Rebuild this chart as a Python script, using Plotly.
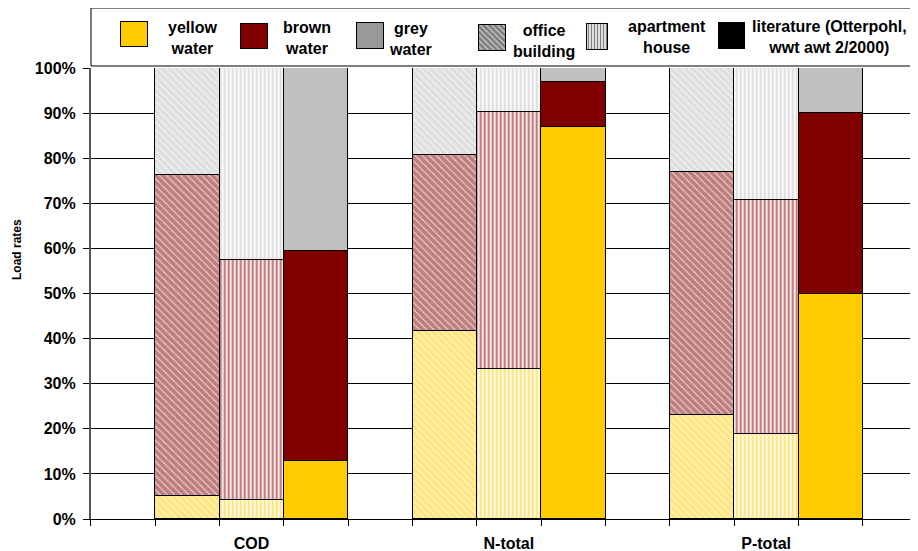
import plotly.graph_objects as go

# The page body keeps its default 8px margin, so the figure is laid out
# in window pixels and shifted by that offset.
WIN_W, WIN_H = 918, 551
OFF = 8
W, H = WIN_W - OFF, WIN_H - OFF

# ── Data (share of load, %) ──────────────────────────────────────────────────
groups = ["COD", "N-total", "P-total"]
buildings = ["office building", "apartment house", "literature"]
waters = ["yellow water", "brown water", "grey water"]

yellow_office = [5.0, 41.7, 23.0]
brown_office = [71.3, 39.0, 54.0]
grey_office = [23.7, 19.3, 23.0]

yellow_apartment = [4.3, 33.3, 18.9]
brown_apartment = [53.1, 56.9, 51.8]
grey_apartment = [42.6, 9.8, 29.3]

yellow_literature = [12.9, 87.0, 50.0]
brown_literature = [46.5, 9.8, 40.0]
grey_literature = [40.6, 3.2, 10.0]

y_ticks = list(range(0, 101, 10))
y_ticklabels = [f"{v}%" for v in y_ticks]

values = {
    "office building": [yellow_office, brown_office, grey_office],
    "apartment house": [yellow_apartment, brown_apartment, grey_apartment],
    "literature": [yellow_literature, brown_literature, grey_literature],
}

# ── Styles ──────────────────────────────────────────────────────────────────
WATER_COLORS = {"yellow water": "#FFCC00", "brown water": "#800000", "grey water": "#C0C0C0"}
PATTERNS = {
    "office building": dict(shape="\\", size=5, solidity=0.85),
    "apartment house": dict(shape="|", size=4, solidity=0.6),
    "literature": dict(shape=""),
}
FONT = "Liberation Sans, Arial, sans-serif"


def px(x):
    """window pixel -> paper fraction"""
    return (x - OFF) / W


def py(y):
    return 1 - (y - OFF) / H


fig = go.Figure()

# ── Stacked bars: one slot per building, empty slot between groups ─────────
for b, bld in enumerate(buildings):
    xs = [4 * g + b + 1.5 for g in range(len(groups))]
    for w, water in enumerate(waters):
        col = WATER_COLORS[water]
        pat = dict(PATTERNS[bld])
        if pat["shape"]:
            pat.update(fgcolor=col, bgcolor="white")
        fig.add_trace(go.Bar(
            x=xs, y=values[bld][w], width=1,
            marker=dict(color=col, line=dict(color="black", width=1), pattern=pat),
            name=f"{water} / {bld}", showlegend=False,
            customdata=groups,
            hovertemplate="%{customdata}<br>" + f"{water}, {bld}: " + "%{y:.1f}%<extra></extra>",
        ))

# ── Hand-made legend (swatches on an overlay axis in window pixels) ────────
legend_items = [
    # label, swatch (x0, x1, y0, y1), text centre (x, y), fill, pattern
    ("yellow<br>water", (121, 148, 22, 47), (192, 37.5), "#FFCC00", None),
    ("brown<br>water", (241, 268, 24, 49), (307, 37.5), "#800000", None),
    ("grey<br>water", (357, 384, 23, 49), (410, 38.5), "#999999", None),
    ("office<br>building", (479, 506, 25, 51), (544, 40.5), "white", dict(shape="\\", size=4, solidity=0.8, fgcolor="black", bgcolor="white")),
    ("apartment<br>house", (587, 608, 24, 50), (667, 37), "white", dict(shape="|", size=3, solidity=0.5, fgcolor="black", bgcolor="white")),
    ("literature (Otterpohl,<br>wwt awt 2/2000)", (719, 745, 23, 49), (829, 37), "black", None),
]
for label, (x0, x1, y0, y1), (tx, ty), fill, pat in legend_items:
    fig.add_trace(go.Bar(
        x=[(x0 + x1) / 2], y=[y1 - y0], base=[y0], width=[x1 - x0],
        xaxis="x2", yaxis="y2",
        marker=dict(color=fill, line=dict(color="black", width=1), pattern=pat or dict(shape="")),
        showlegend=False, hoverinfo="skip",
    ))
    fig.add_annotation(
        x=px(tx), y=py(ty), xref="paper", yref="paper", text=label, showarrow=False,
        xanchor="center", yanchor="middle", align="center",
        font=dict(family=FONT, size=16, color="black", weight="bold"),
    )

fig.add_shape(type="rect", xref="paper", yref="paper",
              x0=px(91), x1=px(925), y0=py(66), y1=py(8),
              line=dict(color="black", width=1), fillcolor="rgba(0,0,0,0)", layer="above")

# Y-axis title
fig.add_annotation(
    x=px(17), y=py(250), xref="paper", yref="paper", text="Load rates", showarrow=False,
    textangle=-90, xanchor="center", yanchor="middle",
    font=dict(family=FONT, size=12, color="black", weight="bold"),
)

# ── Layout ──────────────────────────────────────────────────────────────────
x_end = 12.86
fig.update_layout(
    width=W, height=H,
    margin=dict(l=0, r=0, t=0, b=0, pad=0, autoexpand=False),
    paper_bgcolor="white",
    plot_bgcolor="rgba(0,0,0,0)",
    barmode="stack",
    bargap=0,
    font=dict(family=FONT, size=16, color="black"),
    xaxis=dict(
        domain=[px(90.7), 1], range=[0, x_end], automargin=False,
        tickvals=[4 * g + 2.5 for g in range(len(groups))], ticktext=groups,
        ticks="outside", ticklen=10, tickcolor="rgba(0,0,0,0)",
        tickfont=dict(family=FONT, size=16, color="black", weight="bold"),
        minor=dict(tickvals=list(range(13)) + [x_end - 0.01], ticks="outside",
                   ticklen=6, tickcolor="black", showgrid=False),
        showgrid=False, zeroline=False,
        showline=True, linecolor="black", linewidth=1,
        fixedrange=True,
    ),
    yaxis=dict(
        domain=[py(519), py(68)], range=[0, 100], automargin=False,
        tickvals=y_ticks, ticktext=y_ticklabels,
        ticks="outside", ticklen=6, tickcolor="black", ticklabelstandoff=4,
        tickfont=dict(family=FONT, size=16, color="black", weight="bold"),
        showgrid=True, gridcolor="black", gridwidth=1,
        zeroline=False,
        showline=True, linecolor="#555555", linewidth=1.5,
        fixedrange=True,
    ),
    xaxis2=dict(domain=[0, 1], range=[OFF, WIN_W], visible=False, anchor="y2",
                fixedrange=True, automargin=False),
    yaxis2=dict(domain=[0, 1], range=[WIN_H, OFF], visible=False, anchor="x2",
                fixedrange=True, automargin=False),
)

fig.write_html("out.html")
